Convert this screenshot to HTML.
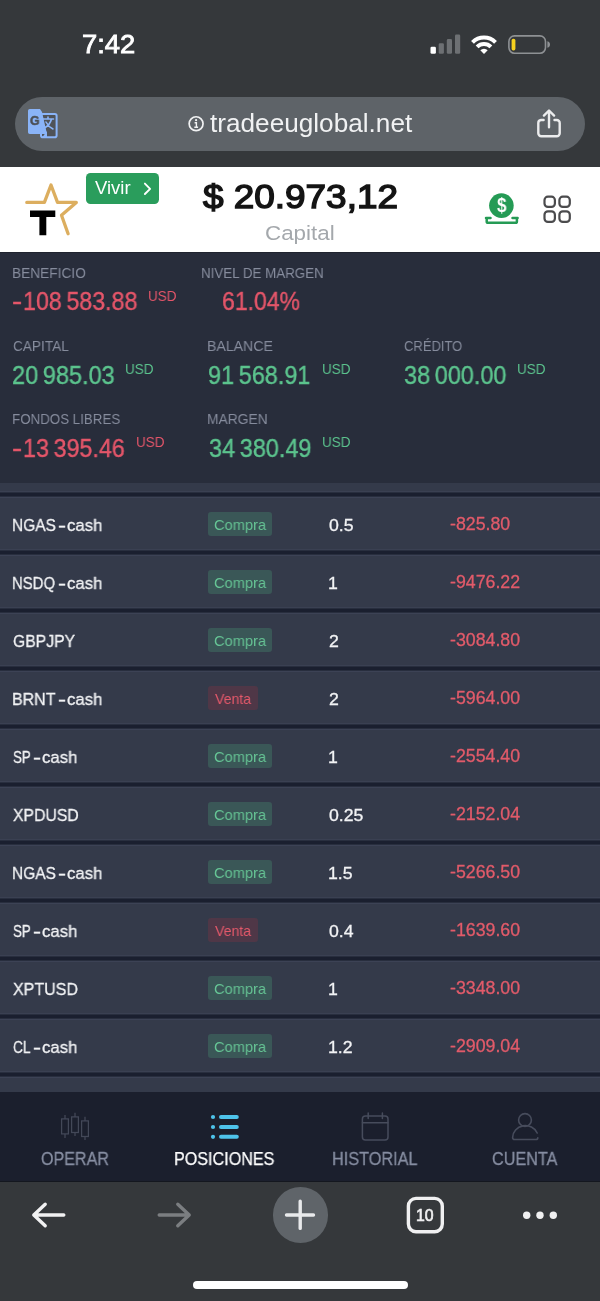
<!DOCTYPE html>
<html><head><meta charset="utf-8"><title>Posiciones</title>
<style>
html,body{margin:0;padding:0}
body{width:600px;height:1301px;position:relative;overflow:hidden;background:#35383b;font-family:"Liberation Sans",sans-serif}
.t{position:absolute;white-space:pre;transform-origin:0 0;display:block;will-change:transform}
.abs{position:absolute}
.bd{position:absolute;border-radius:3px}
.sep{position:absolute;left:0;width:600px;height:7px;background:linear-gradient(#3a4052 0 1px,#282e3e 1px 2px,#1a1f2f 2px 5px,#282e3e 5px 6px,#3c4255 6px 7px)}
#urlbar{left:15px;top:96.8px;width:570px;height:54px;border-radius:27px;background:#5e6368}
#header{left:0;top:166.5px;width:600px;height:85.5px;background:#ffffff}
#stats{left:0;top:252px;width:600px;height:231px;background:#282d3b;border-top:1px solid #20242f;box-sizing:border-box}
#list{left:0;top:483px;width:600px;height:609.5px;background:#343a4a}
#nav{left:0;top:1092px;width:600px;height:89.5px;background:#1b1f2d;border-bottom:1px solid #14171f;box-sizing:border-box}
#tool{left:0;top:1181.5px;width:600px;height:119.5px;background:#35383b}
#vivir{left:85.8px;top:173.3px;width:73px;height:30.4px;border-radius:4.5px;background:#2a9d5c}
#plus{left:272.5px;top:1187.3px;width:55.4px;height:55.4px;border-radius:50%;background:#5f6469}
#home{left:193px;top:1281px;width:214.5px;height:7.5px;border-radius:4px;background:#ffffff}
svg{position:absolute;left:0;top:0}
</style></head><body>
<div class="abs" id="urlbar"></div>
<div class="abs" id="header"></div>
<div class="abs" id="stats"></div>
<div class="abs" id="list"></div>
<div class="sep" style="top:491.0px"></div><div class="sep" style="top:549.0px"></div><div class="sep" style="top:607.0px"></div><div class="sep" style="top:665.0px"></div><div class="sep" style="top:723.0px"></div><div class="sep" style="top:781.0px"></div><div class="sep" style="top:839.0px"></div><div class="sep" style="top:897.0px"></div><div class="sep" style="top:955.0px"></div><div class="sep" style="top:1013.0px"></div><div class="sep" style="top:1071.0px"></div>
<div class="abs" id="nav"></div>
<div class="abs" id="tool"></div>
<div class="abs" id="vivir"></div>
<div class="abs" id="plus"></div>
<div class="abs" id="home"></div>
<div class="bd" style="left:208.3px;top:511.5px;width:63.5px;height:24.0px;background:#3a5757"></div><div class="bd" style="left:208.3px;top:569.5px;width:63.5px;height:24.0px;background:#3a5757"></div><div class="bd" style="left:208.3px;top:627.5px;width:63.5px;height:24.0px;background:#3a5757"></div><div class="bd" style="left:208.3px;top:685.5px;width:49.5px;height:24.0px;background:#4f3747"></div><div class="bd" style="left:208.3px;top:743.5px;width:63.5px;height:24.0px;background:#3a5757"></div><div class="bd" style="left:208.3px;top:801.5px;width:63.5px;height:24.0px;background:#3a5757"></div><div class="bd" style="left:208.3px;top:859.5px;width:63.5px;height:24.0px;background:#3a5757"></div><div class="bd" style="left:208.3px;top:917.5px;width:49.5px;height:24.0px;background:#4f3747"></div><div class="bd" style="left:208.3px;top:975.5px;width:63.5px;height:24.0px;background:#3a5757"></div><div class="bd" style="left:208.3px;top:1033.5px;width:63.5px;height:24.0px;background:#3a5757"></div>
<svg width="600" height="1301" viewBox="0 0 600 1301" fill="none">
<!-- signal bars -->
<rect x="430.5" y="46.8" width="5.4" height="7" rx="1.3" fill="#ffffff"/>
<rect x="438.7" y="43.3" width="5.2" height="10.5" rx="1.3" fill="#6d7073"/>
<rect x="446.8" y="39.1" width="5.2" height="14.7" rx="1.3" fill="#6d7073"/>
<rect x="455" y="34.5" width="5.2" height="19.3" rx="1.3" fill="#6d7073"/>
<!-- wifi -->
<g stroke="#ffffff" stroke-width="4" fill="none">
<path d="M472.5 42.3 A16.3 16.3 0 0 1 495.5 42.3"/>
<path d="M477.1 46.9 A9.8 9.8 0 0 1 490.9 46.9"/>
</g>
<path d="M484 54 L480.3 50.2 A5.2 5.2 0 0 1 487.7 50.2 Z" fill="#ffffff"/>
<!-- battery -->
<rect x="508.9" y="35.9" width="36.6" height="17.3" rx="5.6" stroke="#8e9194" stroke-width="1.6"/>
<rect x="511.6" y="38.7" width="3.8" height="11.7" rx="1.7" fill="#f6d11f"/>
<path d="M547.4 41.2 C549.3 41.8 550 43 550 44.5 C550 46 549.3 47.2 547.4 47.8 Z" fill="#8e9194"/>
<!-- translate icon -->
<rect x="41" y="114" width="15.6" height="23.2" rx="1.8" fill="#4f5359" stroke="#8ab4f8" stroke-width="2"/>
<path d="M29.8 109 H40 L42 112 L47 134 H29.8 A1.8 1.8 0 0 1 28 132.2 V110.8 A1.8 1.8 0 0 1 29.8 109 Z" fill="#8ab4f8"/>
<path d="M43 119 H53.5 M48 117 V119 M51.5 119 C50.5 123 48 126 44.5 128 M46 122 C47.5 125 50 127.5 53 129" stroke="#8ab4f8" stroke-width="1.6" stroke-linecap="round"/>
<path d="M42.5 137 L47 131 L47 137 Z" fill="#8ab4f8"/>
<!-- info icon -->
<circle cx="196.1" cy="123.7" r="6.95" stroke="#f1f2f3" stroke-width="1.7"/>
<circle cx="196.1" cy="120.2" r="1.1" fill="#f1f2f3"/>
<path d="M194.6 122.8 H196.4 V127.2 M194.3 127.3 H198.1" stroke="#f1f2f3" stroke-width="1.4"/>
<!-- share icon -->
<g stroke="#ebeced" stroke-width="2.4" stroke-linecap="round" stroke-linejoin="round">
<path d="M543.6 120 H541 A3 3 0 0 0 538.3 123 V133.3 A3 3 0 0 0 541.3 136.3 H556.7 A3 3 0 0 0 559.7 133.3 V123 A3 3 0 0 0 556.7 120 H554.5"/>
<path d="M549 127.2 V110.8 M543.9 115.6 L549 110.5 L554.1 115.6"/>
</g>
<!-- logo -->
<path d="M26.8 202.4 H44.4 L51 185 L57.5 202.4 H76.3 L61.5 215.3 L68.1 233.8" stroke="#dcae5f" stroke-width="3.3" stroke-linecap="round" stroke-linejoin="round"/>
<path d="M30 210.6 H55.3 V216.9 H46.3 V235.3 H39.4 V216.9 H30 Z" fill="#000000"/>
<!-- vivir chevron -->
<path d="M144.9 183.6 L150.1 188.8 L144.9 194" stroke="#ffffff" stroke-width="1.9" stroke-linecap="round" stroke-linejoin="round"/>
<!-- deposit icon -->
<path d="M486 218 H490.5 M512.5 218 H517.6 M486.7 218 V221.4 A1.4 1.4 0 0 0 488.1 222.8 H515.5 A1.4 1.4 0 0 0 516.9 221.4 V218" stroke="#259b55" stroke-width="2.5" stroke-linecap="round"/>
<circle cx="501.4" cy="205.6" r="12.3" fill="#259b55"/>
<!-- grid icon -->
<g stroke="#4b4b4d" stroke-width="2.2">
<rect x="544.5" y="196.7" width="10.4" height="10.2" rx="3.4"/>
<rect x="559.4" y="196.7" width="10.4" height="10.2" rx="3.4"/>
<rect x="544.5" y="211.4" width="10.4" height="10.5" rx="3.4"/>
<rect x="559.4" y="211.4" width="10.4" height="10.5" rx="3.4"/>
</g>
<!-- nav: candlesticks -->
<g stroke="#434858" stroke-width="1.25">
<rect x="61.6" y="1118.9" width="6.8" height="15"/>
<path d="M65 1115 V1118.9 M65 1133.9 V1138"/>
<rect x="71.6" y="1116.9" width="6.8" height="15.6"/>
<path d="M75 1112.7 V1116.9 M75 1132.5 V1136"/>
<rect x="81.6" y="1120.9" width="6.8" height="15.6"/>
<path d="M85 1116.7 V1120.9 M85 1136.5 V1140"/>
</g>
<!-- nav: list -->
<g fill="#4ec3ea">
<circle cx="213" cy="1117" r="2.1"/><circle cx="213" cy="1127" r="2.1"/><circle cx="213" cy="1136.8" r="2.1"/>
<rect x="219" y="1115" width="19.8" height="4" rx="2"/>
<rect x="219" y="1125" width="19.8" height="4" rx="2"/>
<rect x="219" y="1134.8" width="19.8" height="4" rx="2"/>
</g>
<!-- nav: calendar -->
<g stroke="#474c5c" stroke-width="1.5" stroke-linecap="round">
<rect x="362.4" y="1116" width="25.6" height="24" rx="3"/>
<path d="M362.4 1122.8 H388 M368.2 1113 V1118.6 M382.4 1113 V1118.6"/>
</g>
<!-- nav: user -->
<g stroke="#474c5c" stroke-width="1.6" stroke-linecap="round" stroke-linejoin="round">
<circle cx="525" cy="1120" r="6.4"/>
<path d="M537.2 1133 A12.8 12 0 0 0 512.6 1137.5 A2 2 0 0 0 514.6 1139.5 H536 A1.8 1.8 0 0 0 537.8 1137.7"/>
</g>
<!-- toolbar arrows -->
<g stroke-width="3.4" stroke-linecap="round" stroke-linejoin="round">
<path d="M63.8 1215 H33.8 M45.2 1204.2 L33.8 1215 L45.2 1225.8" stroke="#f1f1f2"/>
<path d="M159.2 1215 H189.2 M177.8 1204.2 L189.2 1215 L177.8 1225.8" stroke="#7b7e81"/>
<path d="M286.5 1215 H313.5 M300.2 1201.2 V1228.4" stroke="#e9eaec"/>
</g>
<rect x="408.4" y="1198.4" width="33.9" height="33.3" rx="7.6" stroke="#f0f0f1" stroke-width="3.4"/>
<g fill="#f0f0f1"><circle cx="526.7" cy="1215.3" r="3.7"/><circle cx="540" cy="1215.3" r="3.7"/><circle cx="553.3" cy="1215.3" r="3.7"/></g>
</svg>

<span class="t" style="left:82.30px;top:32.00px;font-size:25px;line-height:25px;-webkit-text-stroke:0.8px #ffffff;color:#ffffff;transform:scaleX(1.0951)">7:42</span>
<span class="t" style="left:210.00px;top:110.00px;font-size:26px;line-height:26px;color:#f1f2f3;transform:scaleX(1.0064)">tradeeuglobal.net</span>
<span class="t" style="left:203.30px;top:180.00px;font-size:33px;line-height:33px;-webkit-text-stroke:1.4px #141414;color:#141414;transform:scaleX(1.1181)">$ 20.973,12</span>
<span class="t" style="left:264.91px;top:223.00px;font-size:20.5px;line-height:20.5px;color:#a4a8ac;transform:scaleX(1.0922)">Capital</span>
<span class="t" style="left:94.70px;top:179.00px;font-size:18px;line-height:18px;color:#ffffff;transform:scaleX(1.0266)">Vivir</span>
<span class="t" style="left:11.79px;top:265.00px;font-size:15px;line-height:15px;color:#868c9d;transform:scaleX(0.9131)">BENEFICIO</span>
<span class="t" style="left:200.81px;top:265.00px;font-size:15px;line-height:15px;color:#868c9d;transform:scaleX(0.8907)">NIVEL DE MARGEN</span>
<span class="t" style="left:12.70px;top:338.00px;font-size:15px;line-height:15px;color:#868c9d;transform:scaleX(0.9105)">CAPITAL</span>
<span class="t" style="left:207.36px;top:338.00px;font-size:15px;line-height:15px;color:#868c9d;transform:scaleX(0.9417)">BALANCE</span>
<span class="t" style="left:404.00px;top:338.00px;font-size:15px;line-height:15px;color:#868c9d;transform:scaleX(0.8669)">CRÉDITO</span>
<span class="t" style="left:11.81px;top:411.00px;font-size:15px;line-height:15px;color:#868c9d;transform:scaleX(0.8891)">FONDOS LIBRES</span>
<span class="t" style="left:207.38px;top:411.00px;font-size:15px;line-height:15px;color:#868c9d;transform:scaleX(0.9218)">MARGEN</span>
<span class="t" style="left:11.67px;top:289.00px;font-size:25px;line-height:25px;-webkit-text-stroke:0.4px #e5566a;color:#e5566a;transform:scaleX(1.2286)">-</span>
<span class="t" style="left:22.87px;top:289.00px;font-size:25px;line-height:25px;word-spacing:-2px;-webkit-text-stroke:0.4px #e5566a;color:#e5566a;transform:scaleX(0.9297)">108 583.88</span>
<span class="t" style="left:221.98px;top:289.00px;font-size:25px;line-height:25px;word-spacing:-2px;-webkit-text-stroke:0.4px #e5566a;color:#e5566a;transform:scaleX(0.9203)">61.04%</span>
<span class="t" style="left:11.96px;top:363.00px;font-size:25px;line-height:25px;word-spacing:-2px;-webkit-text-stroke:0.4px #5cc48e;color:#5cc48e;transform:scaleX(0.9402)">20 985.03</span>
<span class="t" style="left:207.56px;top:363.00px;font-size:25px;line-height:25px;word-spacing:-2px;-webkit-text-stroke:0.4px #5cc48e;color:#5cc48e;transform:scaleX(0.9374)">91 568.91</span>
<span class="t" style="left:404.20px;top:363.00px;font-size:25px;line-height:25px;word-spacing:-2px;-webkit-text-stroke:0.4px #5cc48e;color:#5cc48e;transform:scaleX(0.9380)">38 000.00</span>
<span class="t" style="left:11.67px;top:436.00px;font-size:25px;line-height:25px;-webkit-text-stroke:0.4px #e5566a;color:#e5566a;transform:scaleX(1.2286)">-</span>
<span class="t" style="left:22.87px;top:436.00px;font-size:25px;line-height:25px;word-spacing:-2px;-webkit-text-stroke:0.4px #e5566a;color:#e5566a;transform:scaleX(0.9318)">13 395.46</span>
<span class="t" style="left:208.50px;top:436.00px;font-size:25px;line-height:25px;word-spacing:-2px;-webkit-text-stroke:0.4px #5cc48e;color:#5cc48e;transform:scaleX(0.9380)">34 380.49</span>
<span class="t" style="left:148.07px;top:289.00px;font-size:14.5px;line-height:14.5px;color:#e5566a;transform:scaleX(0.9265)">USD</span>
<span class="t" style="left:125.07px;top:362.00px;font-size:14.5px;line-height:14.5px;color:#5cc48e;transform:scaleX(0.9265)">USD</span>
<span class="t" style="left:321.77px;top:362.00px;font-size:14.5px;line-height:14.5px;color:#5cc48e;transform:scaleX(0.9265)">USD</span>
<span class="t" style="left:517.37px;top:362.00px;font-size:14.5px;line-height:14.5px;color:#5cc48e;transform:scaleX(0.9265)">USD</span>
<span class="t" style="left:135.77px;top:435.00px;font-size:14.5px;line-height:14.5px;color:#e5566a;transform:scaleX(0.9265)">USD</span>
<span class="t" style="left:321.77px;top:435.00px;font-size:14.5px;line-height:14.5px;color:#5cc48e;transform:scaleX(0.9265)">USD</span>
<span class="t" style="left:11.84px;top:517.00px;font-size:17px;line-height:17px;-webkit-text-stroke:0.3px #f2f3f5;color:#f2f3f5;transform:scaleX(0.9116)">NGAS</span>
<span class="t" style="left:58.35px;top:517.00px;font-size:17px;line-height:17px;-webkit-text-stroke:0.3px #f2f3f5;color:#f2f3f5;transform:scaleX(1.4200)">-</span>
<span class="t" style="left:67.35px;top:517.00px;font-size:17px;line-height:17px;-webkit-text-stroke:0.3px #f2f3f5;color:#f2f3f5;transform:scaleX(0.9844)">cash</span>
<span class="t" style="left:328.85px;top:517.00px;font-size:17px;line-height:17px;-webkit-text-stroke:0.3px #f2f3f5;color:#f2f3f5;transform:scaleX(1.0400)">0.5</span>
<span class="t" style="left:450.15px;top:516.00px;font-size:17.5px;line-height:17.5px;-webkit-text-stroke:0.3px #e25b6a;color:#e25b6a;transform:scaleX(1.0150)">-825.80</span>
<span class="t" style="left:214.00px;top:517.00px;font-size:15px;line-height:15px;color:#66c595;transform:scaleX(0.9758)">Compra</span>
<span class="t" style="left:11.77px;top:575.00px;font-size:17px;line-height:17px;-webkit-text-stroke:0.3px #f2f3f5;color:#f2f3f5;transform:scaleX(0.8770)">NSDQ</span>
<span class="t" style="left:57.55px;top:575.00px;font-size:17px;line-height:17px;-webkit-text-stroke:0.3px #f2f3f5;color:#f2f3f5;transform:scaleX(1.4200)">-</span>
<span class="t" style="left:66.55px;top:575.00px;font-size:17px;line-height:17px;-webkit-text-stroke:0.3px #f2f3f5;color:#f2f3f5;transform:scaleX(0.9844)">cash</span>
<span class="t" style="left:327.81px;top:575.00px;font-size:17px;line-height:17px;-webkit-text-stroke:0.3px #f2f3f5;color:#f2f3f5;transform:scaleX(1.0400)">1</span>
<span class="t" style="left:450.15px;top:574.00px;font-size:17.5px;line-height:17.5px;-webkit-text-stroke:0.3px #e25b6a;color:#e25b6a;transform:scaleX(1.0150)">-9476.22</span>
<span class="t" style="left:214.00px;top:575.00px;font-size:15px;line-height:15px;color:#66c595;transform:scaleX(0.9758)">Compra</span>
<span class="t" style="left:13.15px;top:633.00px;font-size:17px;line-height:17px;-webkit-text-stroke:0.3px #f2f3f5;color:#f2f3f5;transform:scaleX(0.9245)">GBPJPY</span>
<span class="t" style="left:328.85px;top:633.00px;font-size:17px;line-height:17px;-webkit-text-stroke:0.3px #f2f3f5;color:#f2f3f5;transform:scaleX(1.0400)">2</span>
<span class="t" style="left:450.15px;top:632.00px;font-size:17.5px;line-height:17.5px;-webkit-text-stroke:0.3px #e25b6a;color:#e25b6a;transform:scaleX(1.0150)">-3084.80</span>
<span class="t" style="left:214.00px;top:633.00px;font-size:15px;line-height:15px;color:#66c595;transform:scaleX(0.9758)">Compra</span>
<span class="t" style="left:12.21px;top:691.00px;font-size:17px;line-height:17px;-webkit-text-stroke:0.3px #f2f3f5;color:#f2f3f5;transform:scaleX(0.9400)">BRNT</span>
<span class="t" style="left:58.25px;top:691.00px;font-size:17px;line-height:17px;-webkit-text-stroke:0.3px #f2f3f5;color:#f2f3f5;transform:scaleX(1.4200)">-</span>
<span class="t" style="left:67.25px;top:691.00px;font-size:17px;line-height:17px;-webkit-text-stroke:0.3px #f2f3f5;color:#f2f3f5;transform:scaleX(0.9844)">cash</span>
<span class="t" style="left:328.85px;top:691.00px;font-size:17px;line-height:17px;-webkit-text-stroke:0.3px #f2f3f5;color:#f2f3f5;transform:scaleX(1.0400)">2</span>
<span class="t" style="left:450.15px;top:690.00px;font-size:17.5px;line-height:17.5px;-webkit-text-stroke:0.3px #e25b6a;color:#e25b6a;transform:scaleX(1.0150)">-5964.00</span>
<span class="t" style="left:215.00px;top:691.00px;font-size:15px;line-height:15px;color:#e5596b;transform:scaleX(0.9403)">Venta</span>
<span class="t" style="left:12.65px;top:749.00px;font-size:17px;line-height:17px;-webkit-text-stroke:0.3px #f2f3f5;color:#f2f3f5;transform:scaleX(0.7834)">SP</span>
<span class="t" style="left:33.05px;top:749.00px;font-size:17px;line-height:17px;-webkit-text-stroke:0.3px #f2f3f5;color:#f2f3f5;transform:scaleX(1.4200)">-</span>
<span class="t" style="left:42.05px;top:749.00px;font-size:17px;line-height:17px;-webkit-text-stroke:0.3px #f2f3f5;color:#f2f3f5;transform:scaleX(0.9844)">cash</span>
<span class="t" style="left:327.81px;top:749.00px;font-size:17px;line-height:17px;-webkit-text-stroke:0.3px #f2f3f5;color:#f2f3f5;transform:scaleX(1.0400)">1</span>
<span class="t" style="left:450.15px;top:748.00px;font-size:17.5px;line-height:17.5px;-webkit-text-stroke:0.3px #e25b6a;color:#e25b6a;transform:scaleX(1.0150)">-2554.40</span>
<span class="t" style="left:214.00px;top:749.00px;font-size:15px;line-height:15px;color:#66c595;transform:scaleX(0.9758)">Compra</span>
<span class="t" style="left:12.65px;top:807.00px;font-size:17px;line-height:17px;-webkit-text-stroke:0.3px #f2f3f5;color:#f2f3f5;transform:scaleX(0.9274)">XPDUSD</span>
<span class="t" style="left:328.85px;top:807.00px;font-size:17px;line-height:17px;-webkit-text-stroke:0.3px #f2f3f5;color:#f2f3f5;transform:scaleX(1.0400)">0.25</span>
<span class="t" style="left:450.15px;top:806.00px;font-size:17.5px;line-height:17.5px;-webkit-text-stroke:0.3px #e25b6a;color:#e25b6a;transform:scaleX(1.0150)">-2152.04</span>
<span class="t" style="left:214.00px;top:807.00px;font-size:15px;line-height:15px;color:#66c595;transform:scaleX(0.9758)">Compra</span>
<span class="t" style="left:11.84px;top:865.00px;font-size:17px;line-height:17px;-webkit-text-stroke:0.3px #f2f3f5;color:#f2f3f5;transform:scaleX(0.9116)">NGAS</span>
<span class="t" style="left:58.35px;top:865.00px;font-size:17px;line-height:17px;-webkit-text-stroke:0.3px #f2f3f5;color:#f2f3f5;transform:scaleX(1.4200)">-</span>
<span class="t" style="left:67.35px;top:865.00px;font-size:17px;line-height:17px;-webkit-text-stroke:0.3px #f2f3f5;color:#f2f3f5;transform:scaleX(0.9844)">cash</span>
<span class="t" style="left:327.81px;top:865.00px;font-size:17px;line-height:17px;-webkit-text-stroke:0.3px #f2f3f5;color:#f2f3f5;transform:scaleX(1.0400)">1.5</span>
<span class="t" style="left:450.15px;top:864.00px;font-size:17.5px;line-height:17.5px;-webkit-text-stroke:0.3px #e25b6a;color:#e25b6a;transform:scaleX(1.0150)">-5266.50</span>
<span class="t" style="left:214.00px;top:865.00px;font-size:15px;line-height:15px;color:#66c595;transform:scaleX(0.9758)">Compra</span>
<span class="t" style="left:12.65px;top:923.00px;font-size:17px;line-height:17px;-webkit-text-stroke:0.3px #f2f3f5;color:#f2f3f5;transform:scaleX(0.7834)">SP</span>
<span class="t" style="left:33.05px;top:923.00px;font-size:17px;line-height:17px;-webkit-text-stroke:0.3px #f2f3f5;color:#f2f3f5;transform:scaleX(1.4200)">-</span>
<span class="t" style="left:42.05px;top:923.00px;font-size:17px;line-height:17px;-webkit-text-stroke:0.3px #f2f3f5;color:#f2f3f5;transform:scaleX(0.9844)">cash</span>
<span class="t" style="left:328.85px;top:923.00px;font-size:17px;line-height:17px;-webkit-text-stroke:0.3px #f2f3f5;color:#f2f3f5;transform:scaleX(1.0400)">0.4</span>
<span class="t" style="left:450.15px;top:922.00px;font-size:17.5px;line-height:17.5px;-webkit-text-stroke:0.3px #e25b6a;color:#e25b6a;transform:scaleX(1.0150)">-1639.60</span>
<span class="t" style="left:215.00px;top:923.00px;font-size:15px;line-height:15px;color:#e5596b;transform:scaleX(0.9403)">Venta</span>
<span class="t" style="left:12.65px;top:981.00px;font-size:17px;line-height:17px;-webkit-text-stroke:0.3px #f2f3f5;color:#f2f3f5;transform:scaleX(0.9421)">XPTUSD</span>
<span class="t" style="left:327.81px;top:981.00px;font-size:17px;line-height:17px;-webkit-text-stroke:0.3px #f2f3f5;color:#f2f3f5;transform:scaleX(1.0400)">1</span>
<span class="t" style="left:450.15px;top:980.00px;font-size:17.5px;line-height:17.5px;-webkit-text-stroke:0.3px #e25b6a;color:#e25b6a;transform:scaleX(1.0150)">-3348.00</span>
<span class="t" style="left:214.00px;top:981.00px;font-size:15px;line-height:15px;color:#66c595;transform:scaleX(0.9758)">Compra</span>
<span class="t" style="left:13.15px;top:1039.00px;font-size:17px;line-height:17px;-webkit-text-stroke:0.3px #f2f3f5;color:#f2f3f5;transform:scaleX(0.8084)">CL</span>
<span class="t" style="left:33.25px;top:1039.00px;font-size:17px;line-height:17px;-webkit-text-stroke:0.3px #f2f3f5;color:#f2f3f5;transform:scaleX(1.4200)">-</span>
<span class="t" style="left:42.25px;top:1039.00px;font-size:17px;line-height:17px;-webkit-text-stroke:0.3px #f2f3f5;color:#f2f3f5;transform:scaleX(0.9844)">cash</span>
<span class="t" style="left:327.81px;top:1039.00px;font-size:17px;line-height:17px;-webkit-text-stroke:0.3px #f2f3f5;color:#f2f3f5;transform:scaleX(1.0400)">1.2</span>
<span class="t" style="left:450.15px;top:1038.00px;font-size:17.5px;line-height:17.5px;-webkit-text-stroke:0.3px #e25b6a;color:#e25b6a;transform:scaleX(1.0150)">-2909.04</span>
<span class="t" style="left:214.00px;top:1039.00px;font-size:15px;line-height:15px;color:#66c595;transform:scaleX(0.9758)">Compra</span>
<span class="t" style="left:41.15px;top:1151.00px;font-size:17.7px;line-height:17.7px;-webkit-text-stroke:0.3px #878ea2;color:#878ea2;transform:scaleX(0.9090)">OPERAR</span>
<span class="t" style="left:174.21px;top:1151.00px;font-size:17.7px;line-height:17.7px;-webkit-text-stroke:0.25px #ffffff;color:#ffffff;transform:scaleX(0.9120)">POSICIONES</span>
<span class="t" style="left:331.73px;top:1151.00px;font-size:17.7px;line-height:17.7px;-webkit-text-stroke:0.3px #878ea2;color:#878ea2;transform:scaleX(0.9185)">HISTORIAL</span>
<span class="t" style="left:491.65px;top:1151.00px;font-size:17.7px;line-height:17.7px;-webkit-text-stroke:0.3px #878ea2;color:#878ea2;transform:scaleX(0.9175)">CUENTA</span>
<span class="t" style="left:415.60px;top:1208.00px;font-size:15.8px;line-height:15.8px;-webkit-text-stroke:0.6px #f0f0f1;color:#f0f0f1;transform:scaleX(1.0009)">10</span>
<span class="t" style="left:496.80px;top:195.00px;font-size:20px;line-height:20px;font-weight:700;color:#ffffff;transform:scaleX(0.8545)">$</span>
<span class="t" style="left:29.55px;top:115.00px;font-size:12.6px;line-height:12.6px;font-weight:700;-webkit-text-stroke:0.5px #4b4f55;color:#4b4f55;transform:scaleX(0.9700)">G</span>
</body></html>
